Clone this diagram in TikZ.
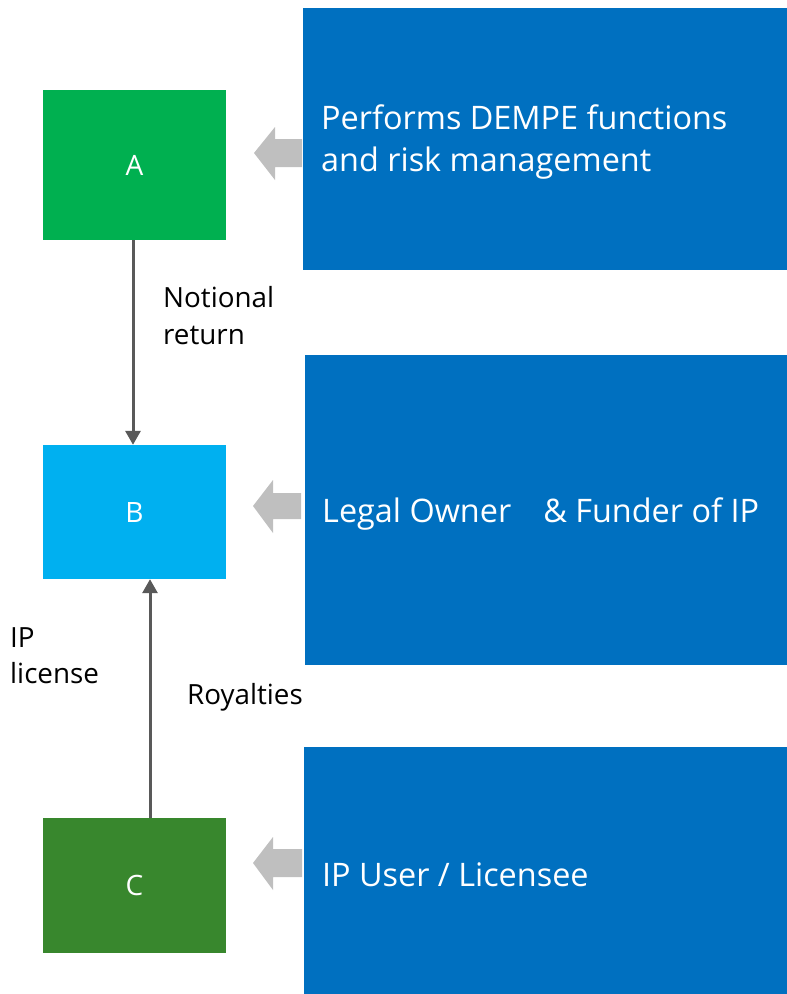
\documentclass[tikz,border=0pt]{standalone}
\usepackage{fontspec}
\setmainfont{Open Sans}
\usetikzlibrary{arrows.meta}
\definecolor{agreen}{HTML}{00B050}
\definecolor{bblue}{HTML}{00B0F0}
\definecolor{cgreen}{HTML}{38872D}
\definecolor{dblue}{HTML}{0070C0}
\definecolor{garrow}{HTML}{BFBFBF}
\definecolor{conn}{HTML}{595959}
\tikzset{
  ent/.style={draw=none, inner sep=0pt, minimum width=183pt, text=white, font=\fontsize{28}{34}\selectfont},
  panel/.style={fill=dblue, draw=none},
  big/.style={anchor=base west, inner sep=0pt, text=white, font=\fontsize{32.4}{40}\selectfont},
  small/.style={anchor=base west, inner sep=0pt, text=black, font=\fontsize{27.8}{32}\selectfont},
  flow/.style={draw=conn, line width=3pt, -{Triangle[width=15pt,length=14pt]}},
  blockarrow/.style={fill=garrow, draw=none}
}
\begin{document}
\begin{tikzpicture}[x=1pt,y=-1pt]
\useasboundingbox (0,0) rectangle (787,994);
% panels
\fill[panel] (303,8) rectangle (787,270);
\fill[panel] (305,355) rectangle (787,665);
\fill[panel] (304,747) rectangle (787,994);
% entity boxes
\node[ent, fill=agreen, minimum height=150pt] (A) at (134.5,165) {A};
\node[ent, fill=bblue, minimum height=134pt] (B) at (134.5,512) {B};
\node[ent, fill=cgreen, minimum height=135pt] (C) at (134.5,885.5) {C};
% gray block arrows
\fill[blockarrow] (254,153) -- (275,127) -- (275,139) -- (302,139) -- (302,167) -- (275,167) -- (275,180) -- cycle;
\fill[blockarrow] (253,506) -- (273,480) -- (273,493) -- (301,493) -- (301,519) -- (273,519) -- (273,533) -- cycle;
\fill[blockarrow] (253,863) -- (273,837) -- (273,849) -- (302,849) -- (302,877) -- (273,877) -- (273,890) -- cycle;
% connectors
\draw[flow] ([xshift=-1.5pt]A.south) -- ([xshift=-1.5pt]B.north);
\draw[flow] ([xshift=15.5pt]C.north) -- ([xshift=15.5pt]B.south);
% panel texts
\node[big] (t1) at (321,129.5) {Performs DEMPE functions};
\node[big] (t2) at (321,171) {and risk management};
\node[big] (t3) at (322,522) {Legal Owner\hspace*{32pt}\& Funder of IP};
\node[big] (t4) at (322,886) {IP User / Licensee};
% labels
\node[small] (l1) at (163,307) {Notional};
\node[small] (l2) at (163,344) {return};
\node[small] (l3) at (10,647) {IP};
\node[small] (l4) at (10,683) {license};
\node[small] (l5) at (187,704) {Royalties};
\end{tikzpicture}
\end{document}
